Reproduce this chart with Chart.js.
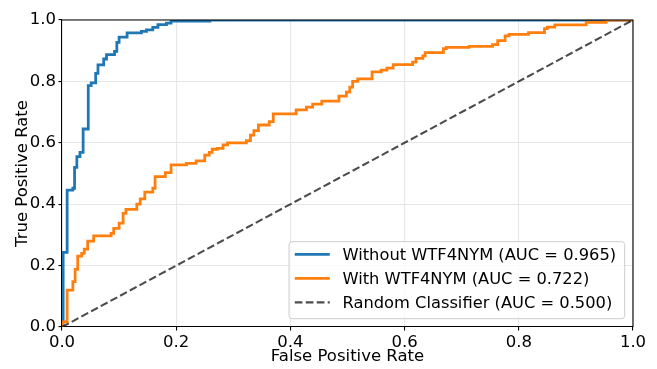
<!DOCTYPE html>
<html>
<head>
<meta charset="utf-8">
<script src="https://cdn.jsdelivr.net/npm/chart.js@4/dist/chart.umd.min.js"></script>
<style>
  html, body { margin: 0; padding: 0; background: #ffffff; }
  canvas { display: block; }
</style>
</head>
<body>
<canvas id="roc" width="657" height="369"></canvas>
<script>
// ROC curve without WTF4NYM: false positive rate at each threshold, and true positive rate after the jump
const fprWithout = [0, 0.002, 0.009, 0.019, 0.022, 0.026, 0.0315, 0.037, 0.046, 0.051, 0.059, 0.063,
  0.073, 0.078, 0.092, 0.096, 0.100, 0.114, 0.139, 0.148, 0.159, 0.168, 0.183, 0.191, 0.259, 1.0];
const tprWithout = [0, 0.243, 0.446, 0.452, 0.520, 0.555, 0.569, 0.645, 0.786, 0.795, 0.826, 0.854,
  0.873, 0.887, 0.898, 0.927, 0.944, 0.958, 0.963, 0.968, 0.976, 0.985, 0.990, 0.996, 1.0, 1.0];

// ROC curve with WTF4NYM
const fprWith = [0, 0.001, 0.009, 0.019, 0.023, 0.0275, 0.0345, 0.039, 0.045, 0.0555, 0.086, 0.0905,
  0.100, 0.107, 0.112, 0.131, 0.137, 0.145, 0.159, 0.163, 0.181, 0.191, 0.218, 0.235, 0.250, 0.258,
  0.263, 0.272, 0.282, 0.290, 0.323, 0.330, 0.336, 0.344, 0.363, 0.370, 0.410, 0.428, 0.439, 0.455,
  0.485, 0.498, 0.504, 0.509, 0.518, 0.543, 0.559, 0.569, 0.580, 0.614, 0.620, 0.632, 0.636, 0.668,
  0.673, 0.713, 0.754, 0.763, 0.776, 0.783, 0.817, 0.845, 0.850, 0.863, 0.918, 0.953, 1.0];
const tprWith = [0, 0.017, 0.120, 0.148, 0.188, 0.231, 0.240, 0.254, 0.280, 0.297, 0.305, 0.321,
  0.338, 0.370, 0.383, 0.400, 0.417, 0.439, 0.452, 0.490, 0.503, 0.528, 0.533, 0.541, 0.560, 0.569,
  0.579, 0.582, 0.593, 0.600, 0.607, 0.625, 0.640, 0.658, 0.669, 0.694, 0.707, 0.716, 0.726, 0.736,
  0.752, 0.765, 0.781, 0.800, 0.808, 0.831, 0.837, 0.843, 0.855, 0.863, 0.875, 0.883, 0.894, 0.907,
  0.911, 0.914, 0.920, 0.933, 0.948, 0.953, 0.959, 0.972, 0.977, 0.984, 0.992, 1.0, 1.0];

// Chance diagonal
const fprRandom = [0, 1];
const tprRandom = [0, 1];

const seriesLabels = [
  'Without WTF4NYM (AUC = 0.965)',
  'With WTF4NYM (AUC = 0.722)',
  'Random Classifier (AUC = 0.500)'
];
const tickValues = [0, 0.2, 0.4, 0.6, 0.8, 1.0];
const xTitle = 'False Positive Rate';
const yTitle = 'True Positive Rate';

const FONT = "'DejaVu Sans', 'Liberation Sans', sans-serif";
const FS = 16.5;
const LEGEND_FS = 16.3;
const BLUE = '#1f77b4';
const ORANGE = '#ff7f0e';
const DASH_COLOR = 'rgba(0,0,0,0.7)';

const toPoints = (xs, ys) => xs.map((x, i) => ({ x: x, y: ys[i] }));

// Closes the frame on the top and right sides
const framePlugin = {
  id: 'frame',
  afterDraw(chart) {
    const { ctx, chartArea: a } = chart;
    ctx.save();
    ctx.strokeStyle = '#000';
    ctx.lineWidth = 1.1;
    ctx.beginPath();
    ctx.moveTo(a.left, a.top);
    ctx.lineTo(a.right, a.top);
    ctx.lineTo(a.right, a.bottom);
    ctx.stroke();
    ctx.restore();
  }
};

// Legend box in the lower-right corner of the plot area
const legendPlugin = {
  id: 'cornerLegend',
  afterDraw(chart) {
    const { ctx, chartArea: a } = chart;
    const ds = chart.data.datasets;
    ctx.save();
    ctx.font = LEGEND_FS + 'px ' + FONT;
    let textW = 0;
    ds.forEach(d => { textW = Math.max(textW, ctx.measureText(d.label).width); });
    const pad = 8.3;
    const w = textW + 62;
    const h = 77;
    const x0 = a.right - pad - w;
    const y0 = a.bottom - pad - h;
    // frame
    const r = 3;
    ctx.beginPath();
    ctx.moveTo(x0 + r, y0);
    ctx.lineTo(x0 + w - r, y0);
    ctx.arcTo(x0 + w, y0, x0 + w, y0 + r, r);
    ctx.lineTo(x0 + w, y0 + h - r);
    ctx.arcTo(x0 + w, y0 + h, x0 + w - r, y0 + h, r);
    ctx.lineTo(x0 + r, y0 + h);
    ctx.arcTo(x0, y0 + h, x0, y0 + h - r, r);
    ctx.lineTo(x0, y0 + r);
    ctx.arcTo(x0, y0, x0 + r, y0, r);
    ctx.closePath();
    ctx.fillStyle = 'rgba(255,255,255,0.8)';
    ctx.fill();
    ctx.strokeStyle = '#cccccc';
    ctx.lineWidth = 1;
    ctx.stroke();
    // rows
    const rowOffsets = [64.3, 40.3, 16.3];
    ds.forEach((d, i) => {
      const cy = y0 + h - rowOffsets[i];
      ctx.beginPath();
      ctx.setLineDash(d.borderDash || []);
      ctx.strokeStyle = d.borderColor;
      ctx.lineWidth = d.borderWidth;
      ctx.moveTo(x0 + 5.7, cy);
      ctx.lineTo(x0 + 5.7 + 35, cy);
      ctx.stroke();
      ctx.setLineDash([]);
      ctx.fillStyle = '#000';
      ctx.textBaseline = 'middle';
      ctx.textAlign = 'left';
      ctx.fillText(d.label, x0 + 53.4, cy + 1);
    });
    ctx.restore();
  }
};

const axisCommon = {
  type: 'linear',
  min: 0,
  max: 1,
  afterBuildTicks(scale) {
    scale.ticks = tickValues.map(v => ({ value: v }));
  },
  grid: {
    color: '#e7e7e7',
    lineWidth: 1.1,
    drawTicks: true,
    tickLength: 3.5,
    tickColor: '#000',
    tickWidth: 1.1
  },
  border: { display: true, color: '#000', width: 1.1 },
  ticks: {
    color: '#000',
    font: { family: FONT, size: FS },
    padding: 2.5,
    callback: v => Number(v).toFixed(1)
  }
};

new Chart(document.getElementById('roc'), {
  type: 'line',
  data: {
    datasets: [
      {
        label: seriesLabels[0],
        data: toPoints(fprWithout, tprWithout),
        borderColor: BLUE,
        borderWidth: 2.78,
        stepped: true,
        pointRadius: 0,
        fill: false,
        order: 2
      },
      {
        label: seriesLabels[1],
        data: toPoints(fprWith, tprWith),
        borderColor: ORANGE,
        borderWidth: 2.78,
        stepped: true,
        pointRadius: 0,
        fill: false,
        order: 1
      },
      {
        label: seriesLabels[2],
        data: toPoints(fprRandom, tprRandom),
        borderColor: DASH_COLOR,
        borderWidth: 2.08,
        borderDash: [7.7, 3.3],
        pointRadius: 0,
        fill: false,
        order: 0
      }
    ]
  },
  options: {
    responsive: false,
    animation: false,
    devicePixelRatio: 1,
    layout: { padding: { top: 20, right: 24, bottom: 0, left: 0 } },
    plugins: {
      legend: { display: false },
      tooltip: { enabled: false }
    },
    scales: {
      x: Object.assign({}, axisCommon, {
        position: 'bottom',
        afterFit(scale) { scale.height = 42; },
        title: {
          display: true,
          text: xTitle,
          color: '#000',
          font: { family: FONT, size: FS },
          padding: { top: 0, bottom: 2 }
        }
      }),
      y: Object.assign({}, axisCommon, {
        position: 'left',
        afterFit(scale) { scale.width = 62; },
        title: {
          display: true,
          text: yTitle,
          color: '#000',
          font: { family: FONT, size: FS },
          padding: { top: 13, bottom: 0 }
        }
      })
    }
  },
  plugins: [framePlugin, legendPlugin]
});
</script>
</body>
</html>
